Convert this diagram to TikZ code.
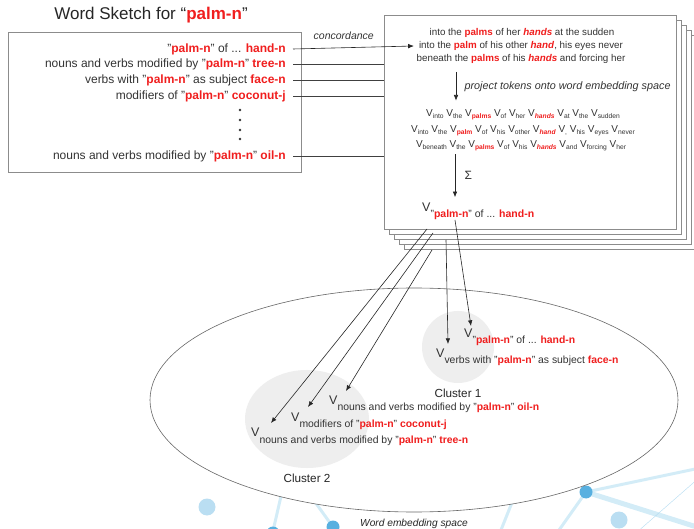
\documentclass[tikz,border=0pt]{standalone}
\usepackage{fontspec}
\setmainfont{Liberation Sans}
\usetikzlibrary{arrows.meta,positioning,calc,shapes.geometric}
\definecolor{palmred}{HTML}{F01E1E}
\definecolor{inkgray}{HTML}{333333}
\definecolor{framegray}{HTML}{8C8C8C}
\definecolor{clustergray}{HTML}{EEEEEE}
\definecolor{netblue}{HTML}{3AA2DA}
\definecolor{netlight}{HTML}{D3ECF7}
\newcommand{\redw}[1]{\textcolor{palmred}{\textbf{#1}}}
\newcommand{\redi}[1]{\textcolor{palmred}{\textbf{\textit{#1}}}}
\newcommand{\tk}[1]{V\raisebox{-2pt}{\fontsize{6.7}{7}\selectfont #1}}
\newcommand{\embv}[1]{{\fontsize{12.5}{12}\selectfont V}\raisebox{-6pt}{#1}}
\tikzset{
  sketchbox/.style={draw=framegray, thick, minimum width=293pt, minimum height=140pt, inner sep=0pt},
  pagebox/.style={draw=framegray, thick, fill=white, minimum width=292pt, minimum height=214pt, inner sep=0pt},
  relrow/.style={anchor=east, inner sep=0pt, font=\fontsize{12}{13}\selectfont, text=inkgray},
  concline/.style={inner sep=0pt, font=\fontsize{9.8}{11}\selectfont, text=inkgray},
  tokrow/.style={inner sep=0pt, font=\fontsize{10}{11}\selectfont, text=inkgray},
  vlabel/.style={anchor=base west, inner sep=0pt, font=\fontsize{10.4}{11}\selectfont, text=inkgray},
  cluster/.style={fill=clustergray, draw=none},
  flow/.style={-{Latex[length=2mm,width=1.6mm]}, semithick, black!85},
  link/.style={draw=black!75, semithick},
  netlink/.style={draw=netlight, line width=3pt, line cap=round},
  netdot/.style={circle, fill=netblue!85, inner sep=0pt, minimum size=13pt},
  netglow/.style={circle, fill=netblue!35, inner sep=0pt, minimum size=17pt}
}
\begin{document}
\begin{tikzpicture}[x=1pt, y=-1pt]
\useasboundingbox (0,0) rectangle (694,529);

% background network
\draw[netlink] (586,492) -- (700,468);
\draw[netlink, line width=5pt] (586,492) -- (700,528);
\draw[netlink] (586,492) -- (552,540);
\draw[netlink] (333,527) -- (292,470);
\draw[netlink] (273,531) -- (287,470);
\draw[netlink] (497,540) -- (525,470);
\draw[draw=netblue!40, thin] (700,477) -- (628,540);
\node[netglow] (glow1) at (207,507) {};
\node[netglow] (glow2) at (619,520) {};
\node[netdot] (dot1) at (333,527) {};
\node[netdot] (dot2) at (273,533) {};
\node[netdot] (dot3) at (586,492) {};

% word sketch
\node[font=\fontsize{17}{19}\selectfont, text=black!85] (title) at (151,15) {Word Sketch for “\redw{palm-n}”};
\node[sketchbox] (sketch) at (154.5,102) {};
\node[relrow] (rel1) at (286,49) {"\redw{palm-n}" of ... \redw{hand-n}};
\node[relrow] (rel2) at (286,64) {nouns and verbs modified by "\redw{palm-n}" \redw{tree-n}};
\node[relrow] (rel3) at (286,80) {verbs with "\redw{palm-n}" as subject \redw{face-n}};
\node[relrow] (rel4) at (286,96) {modifiers of "\redw{palm-n}" \redw{coconut-j}};
\node[relrow] (rel5) at (286,156) {nouns and verbs modified by "\redw{palm-n}" \redw{oil-n}};
\foreach \y in {110,120,130,139}
  \fill[inkgray] (240,\y) circle (1.3pt);

% stack of concordance pages
\foreach \i in {4,3,2,1}
  \node[pagebox] (back\i) at ($(530,122)+(5.2*\i,5.2*\i)$) {};
\node[pagebox] (page) at (530,122) {};

\node[concline] (conc1) at (522,33) {into the \redw{palms} of her \redi{hands} at the sudden};
\node[concline] (conc2) at (521,46) {into the \redw{palm} of his other \redi{hand}, his eyes never};
\node[concline] (conc3) at (521,59) {beneath the \redw{palms} of his \redi{hands} and forcing her};

\node[tokrow] (tok1) at (523,115) {\tk{into} \tk{the} \tk{\redw{palms}} \tk{of} \tk{her} \tk{\redi{hands}} \tk{at} \tk{the} \tk{sudden}};
\node[tokrow] (tok2) at (523,131) {\tk{into} \tk{the} \tk{\redw{palm}} \tk{of} \tk{his} \tk{other} \tk{\redi{hand}} \tk{,} \tk{his} \tk{eyes} \tk{never}};
\node[tokrow] (tok3) at (521,146) {\tk{beneath} \tk{the} \tk{\redw{palms}} \tk{of} \tk{his} \tk{\redi{hands}} \tk{and} \tk{forcing} \tk{her}};

\node[anchor=base west, inner sep=0pt, font=\fontsize{11.5}{12}\selectfont, text=inkgray] (pvec) at (422,212) {\embv{\fontsize{10.5}{11}\selectfont "\redw{palm-n}" of ... \redw{hand-n}}};

\coordinate (projx) at (456,0);
\coordinate (sumx) at (455,0);
\draw[flow] ([yshift=-8pt]conc3.south -| projx) -- ([yshift=9pt]tok1.north -| projx)
  node[midway, right=5pt, font=\fontsize{10.8}{12}\selectfont\itshape, text=inkgray] (projlabel) {project tokens onto word embedding space};
\draw[flow] ([yshift=-3pt]tok3.south -| sumx) -- ([yshift=6pt]pvec.north -| sumx)
  node[midway, right=6pt, font=\fontsize{12}{12}\selectfont, text=inkgray] (sumlabel) {Σ};

% sketch rows to concordance
\draw[flow] ([xshift=7pt]rel1.east) -- ([xshift=-5pt]conc2.west)
  node[pos=0.42, above=4pt, font=\fontsize{10.5}{11}\selectfont\itshape, text=inkgray] (conclabel) {concordance};
\foreach \r in {rel2,rel3,rel4,rel5}
  \draw[link] ([xshift=7pt]\r.east) -- (\r.east -| page.west);

% word embedding space
\node[ellipse, draw=black!60, fill=white, semithick, minimum width=528pt, minimum height=224pt, inner sep=0pt] (space) at (414,400) {};
\node[below=3pt of space.south, font=\fontsize{10.2}{11}\selectfont\itshape, text=black!85] (spacelabel) {Word embedding space};

\node[circle, cluster, minimum size=72pt] (cl1) at (458,347) {};
\node[ellipse, cluster, minimum width=124pt, minimum height=98pt] (cl2) at (307,419) {};
\node[below=2pt of cl1, font=\fontsize{11.7}{12}\selectfont, text=black!85] (cl1label) {Cluster 1};
\node[below=2pt of cl2, font=\fontsize{11.7}{12}\selectfont, text=black!85] (cl2label) {Cluster 2};

\node[vlabel] (cv1) at (464,338) {\embv{"\redw{palm-n}" of ... \redw{hand-n}}};
\node[vlabel] (cv2) at (436,358) {\embv{verbs with "\redw{palm-n}" as subject \redw{face-n}}};
\node[vlabel] (cv3) at (329,405) {\embv{nouns and verbs modified by "\redw{palm-n}" \redw{oil-n}}};
\node[vlabel] (cv4) at (291,421) {\embv{modifiers of "\redw{palm-n}" \redw{coconut-j}}};
\node[vlabel] (cv5) at (251,437) {\embv{nouns and verbs modified by "\redw{palm-n}" \redw{tree-n}}};

% vectors into clusters
\coordinate (out1) at (455,220);
\coordinate (out2) at (446,240);
\coordinate (out3) at (432,250);
\coordinate (out4) at (433,233);
\coordinate (out5) at (427,229);
\draw[flow] (out1) -- ($(cv1.base west)+(7,-12)$);
\draw[flow] (out2) -- ($(cv2.base west)+(12,-14)$);
\draw[flow] (out3) -- ($(cv3.base west)+(17,-14)$);
\draw[flow] (out4) -- ($(cv4.base west)+(17,-14)$);
\draw[flow] (out5) -- ($(cv5.base west)+(20,-14)$);

\end{tikzpicture}
\end{document}
